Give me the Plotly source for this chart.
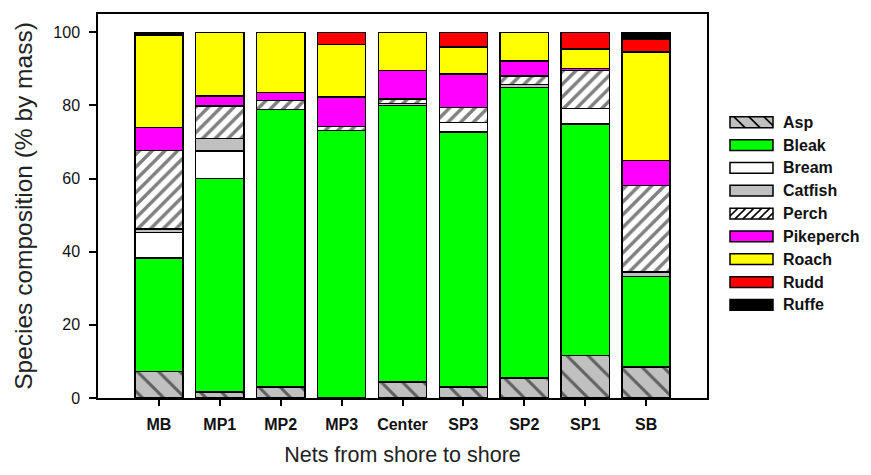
import plotly.graph_objects as go

nets = ["MB", "MP1", "MP2", "MP3", "Center", "SP3", "SP2", "SP1", "SB"]
species = ["Asp", "Bleak", "Bream", "Catfish", "Perch", "Pikeperch", "Roach", "Rudd", "Ruffe"]

asp       = [7.3, 1.7, 3.0, 0.0, 4.4, 3.0, 5.5, 11.6, 8.5]
bleak     = [31.0, 58.3, 75.9, 73.1, 75.6, 69.8, 79.4, 63.3, 24.7]
bream     = [7.0, 7.6, 0.0, 0.0, 0.0, 2.5, 0.0, 4.3, 0.0]
catfish   = [0.9, 3.4, 0.0, 0.0, 0.5, 0.0, 0.8, 0.0, 1.3]
perch     = [21.5, 8.9, 2.5, 1.2, 1.2, 4.1, 2.4, 10.4, 23.6]
pikeperch = [6.3, 2.7, 2.2, 8.0, 7.9, 9.2, 4.0, 0.5, 6.9]
roach     = [25.1, 17.4, 16.4, 14.4, 10.4, 7.4, 7.9, 5.3, 29.6]
rudd      = [0.0, 0.0, 0.0, 3.3, 0.0, 4.0, 0.0, 4.6, 3.4]
ruffe     = [0.9, 0.0, 0.0, 0.0, 0.0, 0.0, 0.0, 0.0, 2.0]

values = [asp, bleak, bream, catfish, perch, pikeperch, roach, rudd, ruffe]
colors = ["#C0C0C0", "#00FF00", "#FFFFFF", "#C0C0C0", "#FFFFFF", "#FF00FF", "#FFFF00", "#FF0000", "#000000"]
patterns = ["\\", "", "", "", "/", "", "", "", ""]
pat_size = [15, 8, 8, 8, 9, 8, 8, 8, 8]
pat_sol = [0.2, 0.3, 0.3, 0.3, 0.38, 0.3, 0.3, 0.3, 0.3]

# the page body keeps its default 8px margin, so the figure is sized to fit the window
OFF = 8
W, H = 871 - 2 * OFF, 475 - 2 * OFF
L, T = 90, 4
PW, PH = 609, 392
R, B = W - L - PW, H - T - PH

def px2x(px):
    return (px - OFF - L) / PW

def px2y(py):
    return (T + PH - (py - OFF)) / PH

fig = go.Figure()
for name, vals, col, pat, ps, sol in zip(species, values, colors, patterns, pat_size, pat_sol):
    marker = dict(color=col, line=dict(color="black", width=1.5))
    if pat:
        marker["pattern"] = dict(shape=pat, fgcolor="black", bgcolor=col, size=ps,
                                 solidity=sol, fillmode="overlay")
    fig.add_trace(go.Bar(x=nets, y=vals, name=name, marker=marker, showlegend=False))

# custom legend (wide rectangles like the original)
shapes = []
annotations = []
lx0, lx1 = 730, 773
for i, (name, col, pat) in enumerate(zip(species, colors, patterns)):
    cy = 122.5 + 23.3 * i
    top, bot = cy - 5.5, cy + 5.5
    shapes.append(dict(type="rect", xref="paper", yref="paper",
                       x0=px2x(lx0), x1=px2x(lx1), y0=px2y(bot), y1=px2y(top),
                       fillcolor=col, line=dict(color="black", width=1.5), layer="above"))
    if pat:
        h = bot - top
        sp = 15 if pat == "\\" else 8
        c = lx0 - h
        while c < lx1:
            t0 = max(0, lx0 - c)
            t1 = min(h, lx1 - c)
            if t1 > t0:
                if pat == "\\":
                    xa, ya, xb, yb = c + t0, top + t0, c + t1, top + t1
                else:
                    xa, ya, xb, yb = c + t0, bot - t0, c + t1, bot - t1
                shapes.append(dict(type="line", xref="paper", yref="paper",
                                   x0=px2x(xa), y0=px2y(ya), x1=px2x(xb), y1=px2y(yb),
                                   line=dict(color="black", width=1.6), layer="above"))
            c += sp
    annotations.append(dict(xref="paper", yref="paper", x=px2x(781), y=px2y(cy),
                            text="<b>%s</b>" % name, showarrow=False, xanchor="left",
                            yanchor="middle", font=dict(size=16, color="#111111")))

fig.update_layout(
    width=W, height=H,
    margin=dict(l=L, r=R, t=T, b=B, pad=0),
    barmode="stack", bargap=0.21,
    plot_bgcolor="white", paper_bgcolor="white",
    font=dict(family="Liberation Sans, Arial, sans-serif", color="#111111"),
    shapes=shapes, annotations=annotations,
    showlegend=False,
)
fig.update_xaxes(
    type="category", range=[-1, 9],
    showline=True, linecolor="black", linewidth=1.5, mirror=True,
    ticks="outside", ticklen=6, tickwidth=1.5, tickcolor="black",
    tickfont=dict(size=16), ticklabelstandoff=5,
    tickprefix="<b>", ticksuffix="</b>",
    showgrid=False,
    title=dict(text="Nets from shore to shore", font=dict(size=21.5, color="#222222"), standoff=15),
)
fig.update_yaxes(
    range=[0, 105], tickvals=[0, 20, 40, 60, 80, 100],
    showline=True, linecolor="black", linewidth=1.5, mirror=True,
    ticks="outside", ticklen=7, tickwidth=1.5, tickcolor="black",
    tickfont=dict(size=16), tickprefix="<b>", ticksuffix="</b>", ticklabelstandoff=6,
    showgrid=False, zeroline=False,
    title=dict(text="Species composition (% by mass)", font=dict(size=24.5, color="#222222"), standoff=14),
)

fig.write_html("out.html", config={"displayModeBar": False})
